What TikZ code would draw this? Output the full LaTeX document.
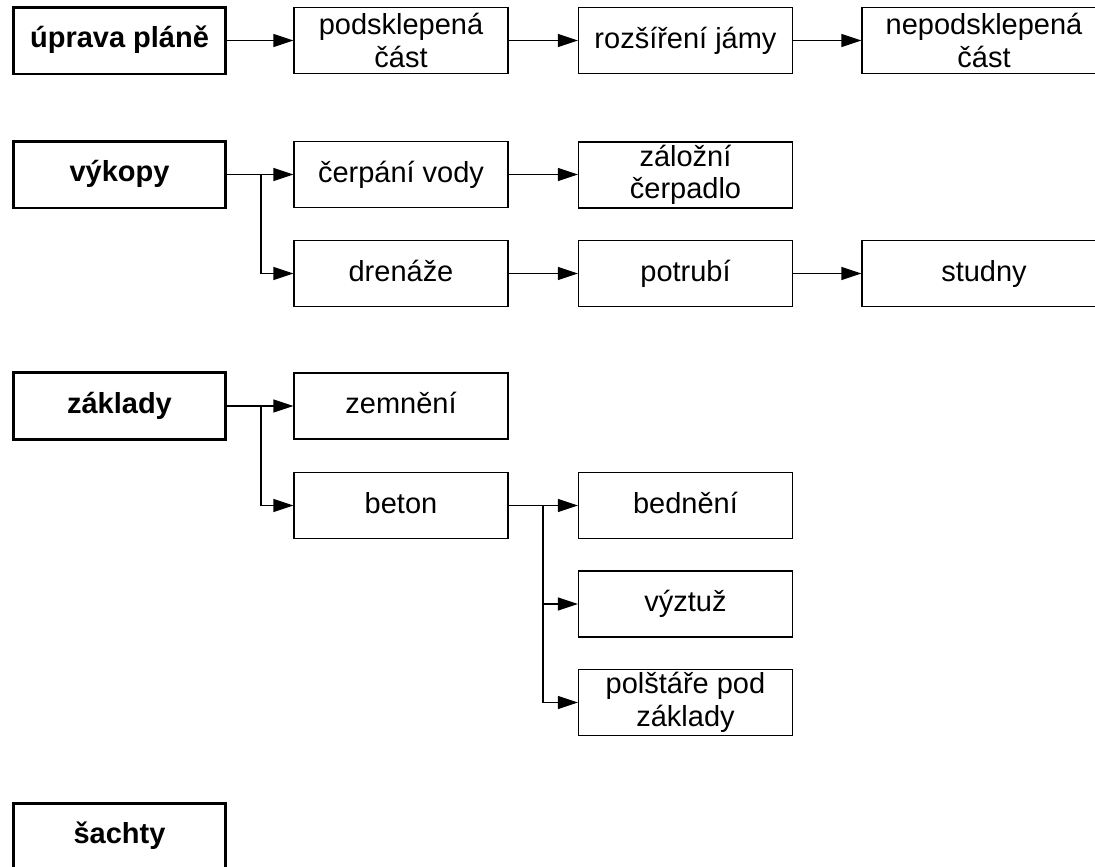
\documentclass[tikz,border=0pt]{standalone}
\usepackage{fontspec}
\setmainfont{Liberation Sans}
\usepackage{tikz}
\usetikzlibrary{arrows.meta}
\tikzset{
task box/.style = { rectangle, draw = black, fill = white, align = center, inner sep = 1pt },
main task/.style = { task box, line width = 1.7pt, minimum width = 4.26cm, minimum height = 1.34cm, font = \fontsize{16.5}{18.5}\selectfont\bfseries, text height = 1.05em, text depth = 0.2em },
sub task/.style = { task box, line width = 0.7pt, minimum width = 4.28cm, minimum height = 1.32cm, text height = 1.1em, text depth = 0.2em },
two line task/.style = { task box, line width = 0.7pt, minimum width = 4.28cm, minimum height = 1.32cm },
wide task/.style = { sub task, minimum width = 4.88cm },
wide two line task/.style = { two line task, minimum width = 4.88cm },
link/.style = { draw = black, line width = 0.7pt, -{Triangle[length = 4mm, width = 2.6mm]} },
}

\begin{document}
\begin{tikzpicture}[x = 0.02cm, y = -0.02cm, font = \fontsize{16.5}{18.5}\selectfont]
    \clip (0, 0) rectangle (1095, 866);
    \fill[white] (0, 0) rectangle (1095, 866);
    % first row
    \node[main task] (uprava) at (119.5, 40.5) {úprava pláně};
    \node[two line task] (podsklep) at (401, 40.5) {podsklepená\\část};
    \node[sub task] (jama) at (685.5, 40.5) {rozšíření jámy};
    \node[wide two line task] (nepodsklep) at (984, 40.5) {nepodsklepená\\část};
    \draw[link] (uprava.east) -- (podsklep.west |- uprava.east);
    \draw[link] (podsklep.east |- jama.west) -- (jama.west);
    \draw[link] (jama.east) -- (nepodsklep.west |- jama.east);
    % vykopy
    \node[main task] (vykopy) at (119.5, 174.5) {výkopy};
    \node[sub task] (cerpani) at (401, 174.5) {čerpání vody};
    \node[two line task] (zalozni) at (685.5, 175) {záložní\\čerpadlo};
    \node[sub task] (drenaze) at (401, 273.5) {drenáže};
    \node[sub task] (potrubi) at (685.5, 273.5) {potrubí};
    \node[wide task] (studny) at (984, 273.5) {studny};
    \coordinate (vykopy split) at (261, 174.5);
    \draw[line width = 0.7pt] (vykopy.east) -- (vykopy split);
    \draw[link] (vykopy split) -- (cerpani.west);
    \draw[link] (vykopy split) |- (drenaze.west);
    \draw[link] (cerpani.east) -- (zalozni.west |- cerpani.east);
    \draw[link] (drenaze.east) -- (potrubi.west);
    \draw[link] (potrubi.east) -- (studny.west);
    % zaklady
    \node[main task] (zaklady) at (119.5, 406) {základy};
    \node[sub task] (zemneni) at (401, 406) {zemnění};
    \node[sub task] (beton) at (401, 505.5) {beton};
    \node[sub task] (bedneni) at (685.5, 505.5) {bednění};
    \node[sub task] (vyztuz) at (685.5, 604) {výztuž};
    \node[two line task] (polstare) at (685.5, 702.5) {polštáře pod\\základy};
    \coordinate (zaklady split) at (261, 406);
    \coordinate (beton split) at (543, 505.5);
    \draw[line width = 0.7pt] (zaklady.east) -- (zaklady split);
    \draw[link] (zaklady split) -- (zemneni.west);
    \draw[link] (zaklady split) |- (beton.west);
    \draw[line width = 0.9pt] (beton.east) -- (beton split);
    \draw[link] (beton split) -- (bedneni.west);
    \draw[link] (beton split) |- (vyztuz.west);
    \draw[link] (beton split) |- (polstare.west);
    % sachty
    \node[main task] (sachty) at (119.5, 836.5) {šachty};
\end{tikzpicture}
\end{document}
